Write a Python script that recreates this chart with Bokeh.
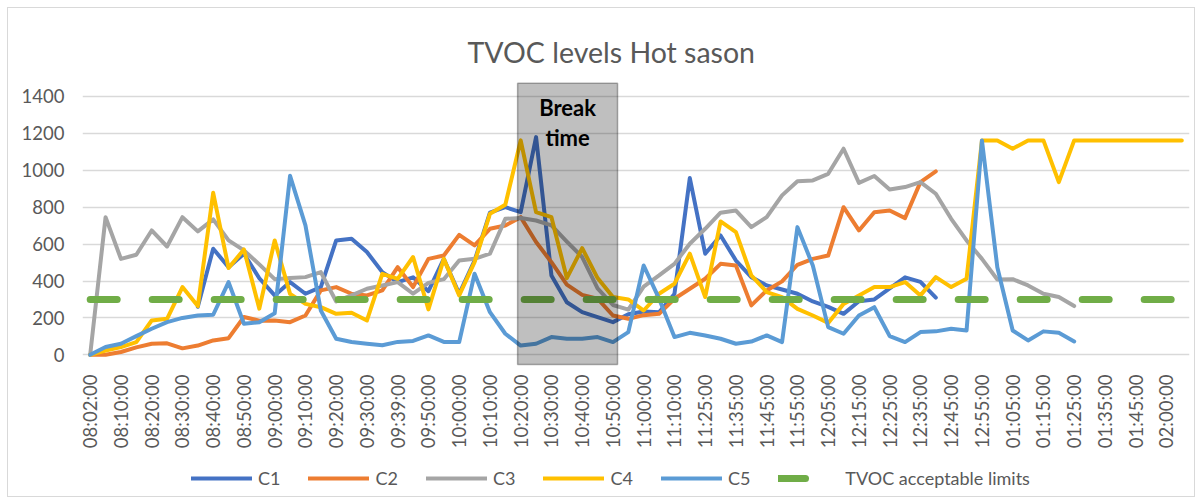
import math
from bokeh.plotting import figure
from bokeh.layouts import column
from bokeh.models import Range1d, FixedTicker, Legend, LegendItem, Label, BoxAnnotation
from bokeh.embed import file_html
from bokeh.resources import INLINE

nan = float("nan")

# x tick labels (one every second sample)
tick_labels = ["08:02:00", "08:10:00", "08:20:00", "08:30:00", "08:40:00", "08:50:00",
               "09:00:00", "09:10:00", "09:20:00", "09:30:00", "09:39:00", "09:50:00",
               "10:00:00", "10:10:00", "10:20:00", "10:30:00", "10:40:00", "10:50:00",
               "11:00:00", "11:10:00", "11:25:00", "11:35:00", "11:45:00", "11:55:00",
               "12:05:00", "12:15:00", "12:25:00", "12:35:00", "12:45:00", "12:55:00",
               "01:05:00", "01:15:00", "01:25:00", "01:35:00", "01:45:00", "02:00:00"]

c1 = [nan, nan, nan, nan, nan, nan, nan,
      260, 575, 475, 548, 415, 322, 394, 331, 367, 620, 629, 557, 448, 394,
      420, 345, 520, 330, 510, 770, 800, 773, 1180, 430, 285, 231, 204, 177,
      220, 235, 231, 330, 958, 548, 647, 511, 421, 376, 354, 331, 289, 260,
      222, 290, 300, 360, 420, 395, 310,
      nan, nan, nan, nan, nan, nan, nan, nan, nan, nan, nan, nan, nan, nan, nan, nan]

c2 = [0, 0, 15, 40, 60, 62, 35, 50, 78, 90, 205, 185, 186, 177, 213, 349, 367,
      331, 322, 349, 475, 367, 520, 538, 650, 593, 683, 701, 746, 611, 502, 380,
      325, 304, 213, 195, 215, 222, 304, 358, 412, 493, 484, 268, 349, 398, 488,
      520, 538, 800, 674, 773, 782, 741, 936, 994,
      nan, nan, nan, nan, nan, nan, nan, nan, nan, nan, nan, nan, nan, nan, nan, nan]

c3 = [0, 746, 520, 542, 674, 587, 746, 669, 734, 620, 566, 490, 410, 416, 421,
      448, 289, 322, 358, 376, 394, 331, 390, 410, 511, 520, 548, 737, 741, 728,
      701, 614, 530, 360, 270, 245, 370, 430, 493, 602, 683, 770, 782, 692, 746,
      864, 941, 945, 981, 1117, 932, 969, 896, 909, 936, 873, 737, 620, 520, 408,
      410, 376, 331, 313, 264,
      nan, nan, nan, nan, nan, nan, nan]

c4 = [0, 23, 42, 69, 186, 195, 367, 264, 878, 470, 571, 250, 620, 330, 276, 258,
      222, 228, 186, 439, 412, 530, 246, 520, 322, 502, 764, 813, 1162, 773, 746,
      416, 578, 416, 313, 300, 240, 331, 385, 548, 313, 723, 665, 430, 340, 313,
      249, 213, 173, 276, 322, 367, 367, 394, 322, 421, 367, 412, 1162, 1162,
      1117, 1162, 1162, 936, 1162, 1162, 1162, 1162, 1162, 1162, 1162, 1162]

c5 = [0, 42, 60, 101, 141, 177, 200, 213, 217, 394, 168, 177, 225, 970, 701, 240,
      87, 69, 60, 52, 70, 75, 105, 70, 69, 439, 231, 114, 50, 60, 96, 87, 87, 96,
      69, 123, 484, 304, 96, 119, 105, 87, 60, 72, 105, 69, 692, 484, 150, 114,
      213, 258, 101, 69, 123, 127, 141, 132, 1162, 475, 132, 78, 127, 119, 72,
      nan, nan, nan, nan, nan, nan, nan]

tvoc_limit = [300] * 72

series_names = ["C1", "C2", "C3", "C4", "C5"]
series_colors = ["#4472C4", "#ED7D31", "#A5A5A5", "#FFC000", "#5B9BD5"]
limit_name = "TVOC acceptable limits"
limit_color = "#70AD47"

# break period, in sample-index units (10:20 -> 10:50)
break_start, break_end = 27.8, 34.3

x = list(range(len(c1)))
all_series = [c1, c2, c3, c4, c5]
FONT = "Lato"
TXT = "#595959"

p = figure(width=1202, height=455,
           x_range=Range1d(-0.5, 71.5), y_range=Range1d(-63.4, 1486.7),
           output_backend="svg", toolbar_location=None,
           min_border_left=82, min_border_right=13,
           min_border_top=80, min_border_bottom=89)
p.outline_line_color = None
p.background_fill_alpha = 0
p.border_fill_alpha = 0

p.title.text = "TVOC levels Hot sason"
p.title.align = "left"
p.title.offset = 385
p.title.standoff = 24
p.title.text_font = FONT
p.title.text_font_size = "28.5px"
p.title.text_font_style = "normal"
p.title.text_color = TXT

line_style = dict(line_width=4, line_join="round", line_cap="round")
limit_style = dict(line_width=7, line_dash="27 35", line_cap="round")

for vals, col in zip(all_series, series_colors):
    p.line(x, vals, line_color=col, **line_style)
p.line(x, tvoc_limit, line_color=limit_color, **limit_style)

box = BoxAnnotation(left=break_start, right=break_end, bottom=-53, top=1472,
                    fill_color="black", fill_alpha=0.25,
                    line_color="black", line_width=1.5)
p.add_layout(box)

mid = (break_start + break_end) / 2
for txt, yv in [("Break", 1340), ("time", 1178)]:
    p.add_layout(Label(x=mid, y=yv, text=txt, text_align="center",
                       text_baseline="alphabetic", text_font=FONT,
                       text_font_size="22px", text_font_style="bold",
                       text_color="black"))

# axes
yt = [0, 200, 400, 600, 800, 1000, 1200, 1400]
p.yaxis.ticker = FixedTicker(ticks=yt)
p.yaxis.axis_line_color = None
p.yaxis.major_tick_line_color = None
p.yaxis.minor_tick_line_color = None
p.yaxis.major_label_standoff = 12
p.yaxis.major_label_text_font = FONT
p.yaxis.major_label_text_font_size = "18.5px"
p.yaxis.major_label_text_color = TXT

p.ygrid.ticker = FixedTicker(ticks=yt)
p.ygrid.grid_line_color = "#D9D9D9"
p.ygrid.grid_line_width = 1.3
p.xgrid.visible = False

xt = list(range(0, 72, 2))
p.xaxis.ticker = FixedTicker(ticks=xt)
p.xaxis.major_label_overrides = {t: lab for t, lab in zip(xt, tick_labels)}
p.xaxis.major_label_orientation = math.pi / 2
p.xaxis.axis_line_color = None
p.xaxis.major_tick_line_color = None
p.xaxis.minor_tick_line_color = None
p.xaxis.major_label_standoff = 2
p.xaxis.major_label_text_font = FONT
p.xaxis.major_label_text_font_size = "18.5px"
p.xaxis.major_label_text_color = TXT

# legend strip below the chart (same series, drawn outside its visible range)
pl = figure(width=1202, height=49, x_range=Range1d(-0.5, 71.5), y_range=Range1d(5000, 5001),
            output_backend="svg", toolbar_location=None,
            x_axis_location=None, y_axis_location=None,
            min_border_left=82, min_border_right=13, min_border_top=0, min_border_bottom=0)
pl.outline_line_color = None
pl.grid.visible = False
pl.background_fill_alpha = 0
pl.border_fill_alpha = 0

items = []
for vals, name, col in zip(all_series, series_names, series_colors):
    r = pl.line(x, vals, line_color=col, **line_style)
    items.append(LegendItem(label=name, renderers=[r]))
r = pl.line(x, tvoc_limit, line_color=limit_color, **limit_style)
items.append(LegendItem(label=limit_name, renderers=[r]))

legend = Legend(items=items, orientation="horizontal", location=(109, 15),
                margin=0, padding=6, spacing=28, glyph_width=61, glyph_height=20,
                label_standoff=6, label_text_font=FONT, label_text_font_size="18px",
                label_text_color=TXT, border_line_color=None,
                background_fill_alpha=0)
pl.add_layout(legend)

layout = column(p, pl, spacing=0,
                styles={"outline": "1px solid #D9D9D9", "outline-offset": "-8px",
                        "background-color": "white"})

open("out.html", "w").write(file_html(layout, INLINE))
